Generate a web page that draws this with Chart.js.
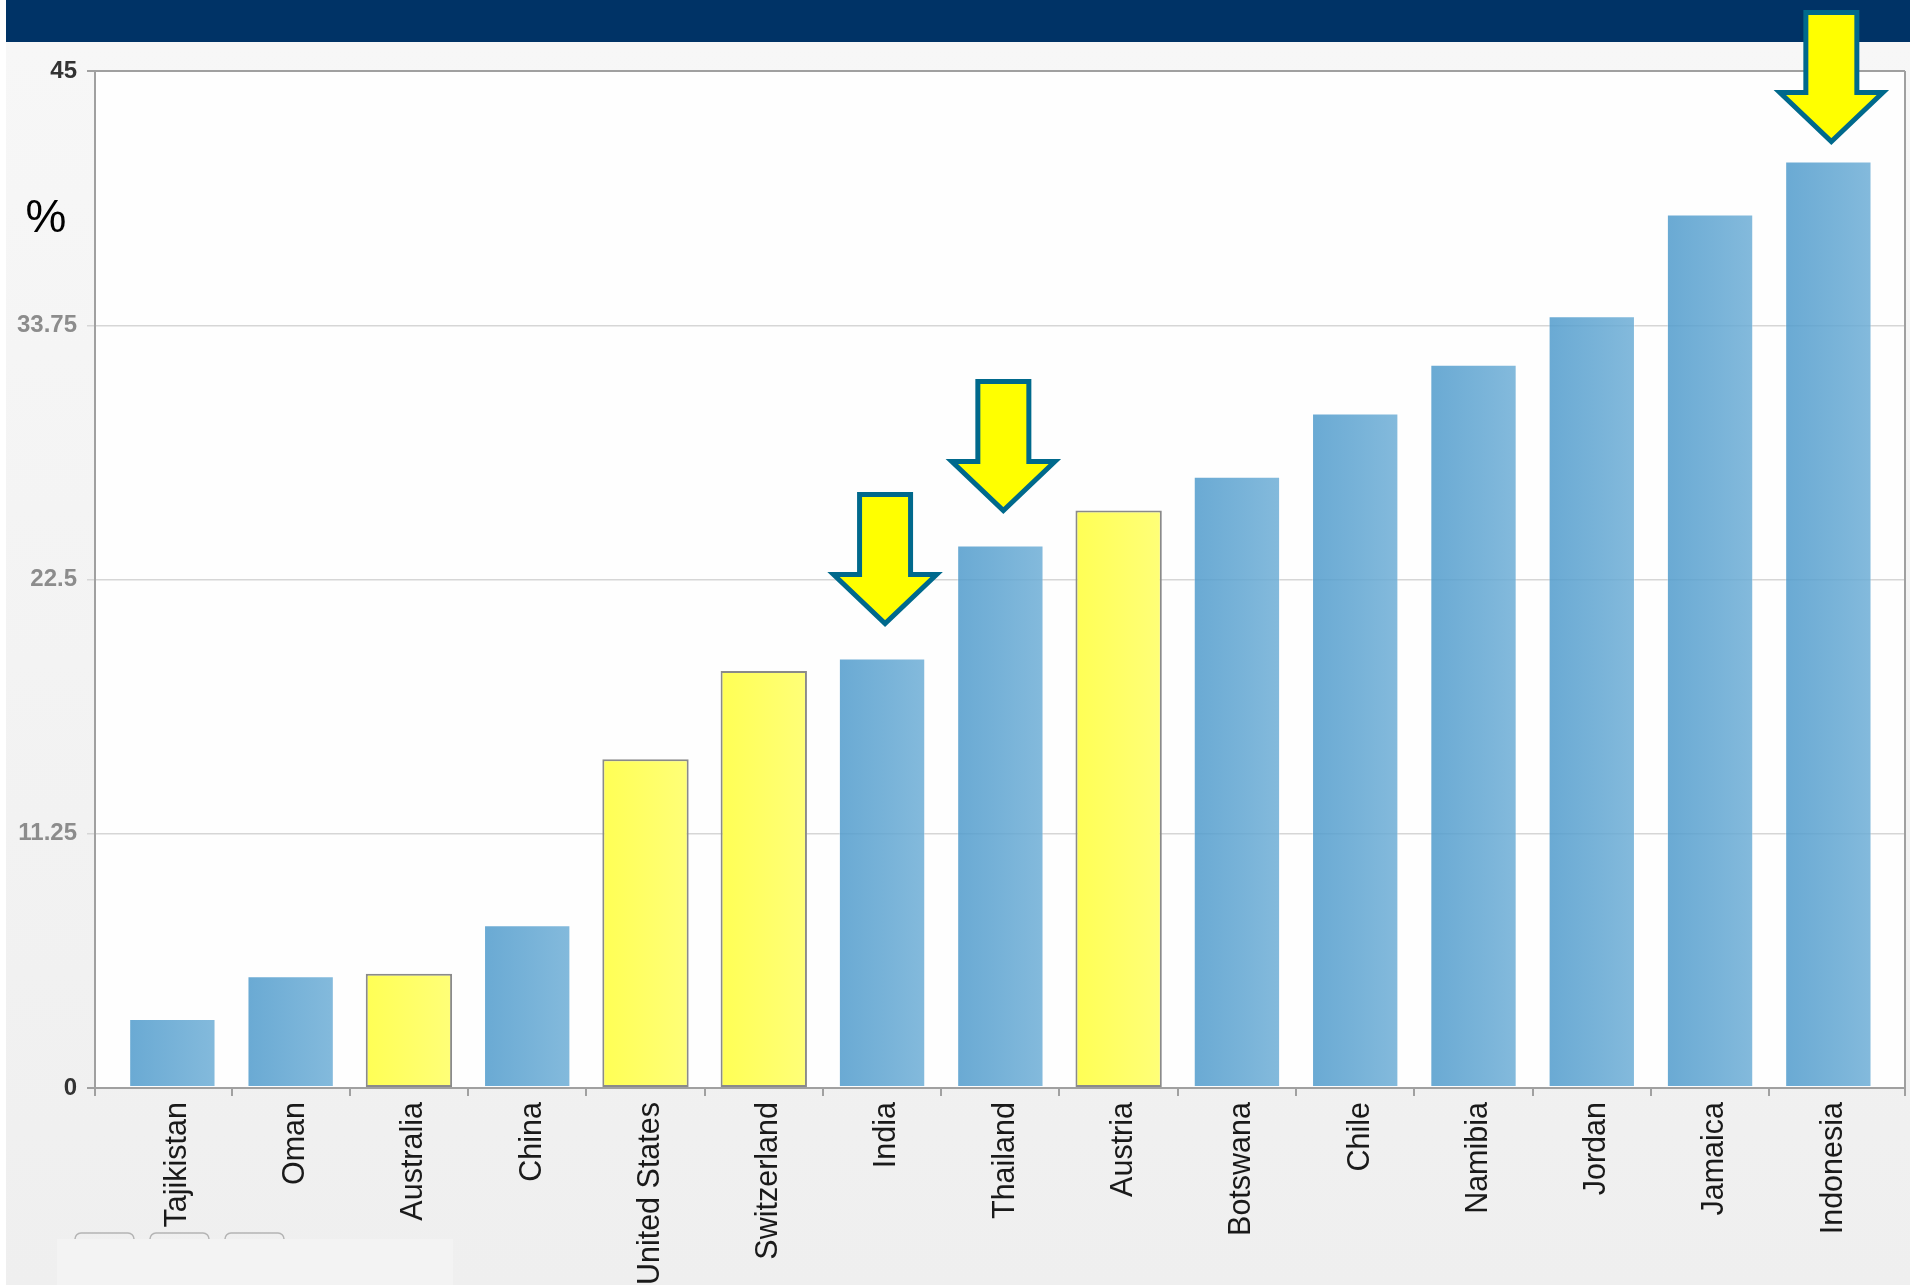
<!DOCTYPE html>
<html>
<head>
<meta charset="utf-8">
<script src="https://cdn.jsdelivr.net/npm/chart.js@4.4.1/dist/chart.umd.min.js"></script>
<style>
  html, body { margin: 0; padding: 0; background: #ffffff; }
  canvas { display: block; }
</style>
</head>
<body>
<canvas id="chart" width="1910" height="1285"></canvas>
<script>
// values (%)
const countries = ['Tajikistan', 'Oman', 'Australia', 'China', 'United States', 'Switzerland', 'India',
    'Thailand', 'Austria', 'Botswana', 'Chile', 'Namibia', 'Jordan', 'Jamaica', 'Indonesia'];
const shares = [3.05, 4.95, 5.05, 7.2, 14.55, 18.45, 19.0, 24.0, 25.55, 27.05, 29.85, 32.0, 34.15, 38.65, 41.0];
const yTicks = [0, 11.25, 22.5, 33.75, 45];
const yellowCountries = ['Australia', 'United States', 'Switzerland', 'Austria'];
const arrowCountries = ['India', 'Thailand', 'Indonesia'];

const BAR_PCT = 0.73;
const colors = {
    navy: '#003366',
    blueL: 'rgba(80,155,204,0.85)',
    blueR: 'rgba(110,174,214,0.85)',
    yellowL: '#ffff55',
    yellowR: '#ffff78',
    axis: '#a0a0a0',
    grid: '#d6d6d6',
    arrowFill: '#ffff00',
    arrowLine: '#00698c'
};
const FONT = '"Liberation Sans", Arial, sans-serif';

function isYellow(i) {
    return yellowCountries.includes(countries[i]);
}

function barFill(ctx) {
    const chart = ctx.chart;
    const x = chart.scales.x;
    const yellow = isYellow(ctx.dataIndex);
    const plain = yellow ? colors.yellowL : colors.blueL;
    if (!x || ctx.type !== 'data') return plain;
    const c = x.getPixelForValue(ctx.dataIndex);
    const half = (x.getPixelForValue(1) - x.getPixelForValue(0)) * BAR_PCT / 2;
    if (!isFinite(c) || !isFinite(half) || half <= 0) return plain;
    const g = chart.ctx.createLinearGradient(c - half, 0, c + half, 0);
    g.addColorStop(0, yellow ? colors.yellowL : colors.blueL);
    g.addColorStop(1, yellow ? colors.yellowR : colors.blueR);
    return g;
}

const backdrop = {
    id: 'backdrop',
    beforeDraw(chart) {
        const { ctx, width, height, chartArea: a } = chart;
        ctx.save();
        ctx.fillStyle = '#ffffff';
        ctx.fillRect(0, 0, width, height);
        const bg = ctx.createLinearGradient(0, 42, 0, height);
        bg.addColorStop(0, '#f7f7f7');
        bg.addColorStop(1, '#efefef');
        ctx.fillStyle = bg;
        ctx.fillRect(6, 0, width - 6, height);
        ctx.fillStyle = colors.navy;
        ctx.fillRect(6, 0, width - 6, 42);
        ctx.fillStyle = '#fefefe';
        ctx.fillRect(a.left, a.top, a.right - a.left, a.bottom - a.top);

        // leftover toolbar bits at the bottom left
        ctx.strokeStyle = '#b4b4b4';
        ctx.lineWidth = 1.5;
        [[75, 134], [150, 209], [225, 284]].forEach(([x0, x1]) => {
            ctx.beginPath();
            ctx.roundRect(x0, 1233, x1 - x0, 30, 6);
            ctx.stroke();
        });
        ctx.fillStyle = '#f3f3f3';
        ctx.fillRect(57, 1239, 396, height - 1239);
        ctx.restore();
    },
    afterDraw(chart) {
        const { ctx, chartArea: a, scales: { x, y } } = chart;
        ctx.save();
        // frame ends
        ctx.strokeStyle = colors.axis;
        ctx.lineWidth = 2;
        ctx.beginPath();
        ctx.moveTo(a.right, a.top);
        ctx.lineTo(a.right, a.bottom + 8);
        ctx.moveTo(a.left, a.bottom);
        ctx.lineTo(a.left, a.bottom + 8);
        ctx.stroke();

        ctx.fillStyle = '#000000';
        ctx.font = '46px ' + FONT;
        ctx.textAlign = 'center';
        ctx.textBaseline = 'middle';
        ctx.fillText('%', 46, 219);

        // arrows over the highlighted bars
        arrowCountries.forEach(name => {
            const i = countries.indexOf(name);
            const cx = x.getPixelForValue(i) + 3;
            const shaftHalf = 25.5, headHalf = 51.5, headH = 49, shaftH = 80;
            let tip = y.getPixelForValue(shares[i]) - 35;
            if (tip - headH - shaftH < 12.5) tip = 12.5 + headH + shaftH;
            const base = tip - headH, top = base - shaftH;
            ctx.beginPath();
            ctx.moveTo(cx - shaftHalf, top);
            ctx.lineTo(cx + shaftHalf, top);
            ctx.lineTo(cx + shaftHalf, base);
            ctx.lineTo(cx + headHalf, base);
            ctx.lineTo(cx, tip);
            ctx.lineTo(cx - headHalf, base);
            ctx.lineTo(cx - shaftHalf, base);
            ctx.closePath();
            ctx.fillStyle = colors.arrowFill;
            ctx.fill();
            ctx.lineJoin = 'miter';
            ctx.lineWidth = 5;
            ctx.strokeStyle = colors.arrowLine;
            ctx.stroke();
        });
        ctx.restore();
    }
};

const chart = new Chart(document.getElementById('chart'), {
    type: 'bar',
    data: {
        datasets: [{
            data: shares.map((v, i) => ({ x: i, y: v })),
            backgroundColor: barFill,
            borderColor: ctx => isYellow(ctx.dataIndex) ? '#8a8a8a' : 'rgba(255,255,255,0.35)',
            borderWidth: ctx => isYellow(ctx.dataIndex) ? 2 : 1,
            borderSkipped: false,
            barPercentage: BAR_PCT,
            categoryPercentage: 1
        }]
    },
    options: {
        responsive: false,
        devicePixelRatio: 1,
        animation: false,
        layout: { padding: { top: 71, right: 5, left: 0, bottom: 0 } },
        plugins: { legend: { display: false }, tooltip: { enabled: false } },
        scales: {
            x: {
                type: 'linear',
                bounds: 'data',
                offset: false,
                min: -0.654,
                max: 14.648,
                afterBuildTicks: s => { s.ticks = countries.map((c, i) => ({ value: i })); },
                afterFit: s => { s.height = 197; },
                grid: {
                    offset: true,
                    drawOnChartArea: false,
                    tickLength: 8,
                    lineWidth: 2,
                    color: ctx => (ctx.type !== 'tick' || ctx.index === 0) ? 'rgba(0,0,0,0)' : colors.axis
                },
                border: { display: true, color: colors.axis, width: 2 },
                ticks: {
                    autoSkip: false,
                    minRotation: 90,
                    maxRotation: 90,
                    padding: 6,
                    labelOffset: 5,
                    color: '#1a1a1a',
                    font: { family: FONT, size: 30.5 },
                    callback: v => countries[v]
                }
            },
            y: {
                bounds: 'data',
                min: 0,
                max: 45,
                afterBuildTicks: s => { s.ticks = yTicks.map(v => ({ value: v })); },
                afterFit: s => { s.width = 95; },
                grid: {
                    tickLength: 8,
                    color: ctx => (ctx.tick && (ctx.tick.value === 0 || ctx.tick.value === 45)) ? colors.axis : colors.grid,
                    lineWidth: ctx => (ctx.tick && (ctx.tick.value === 0 || ctx.tick.value === 45)) ? 2 : 1.5
                },
                border: { display: true, color: colors.axis, width: 2 },
                ticks: {
                    padding: 10,
                    color: ctx => (ctx.tick && (ctx.tick.value === 0 || ctx.tick.value === 45)) ? '#333333' : '#8c8c8c',
                    font: { family: FONT, size: 24, weight: 'bold' },
                    callback: v => String(v)
                }
            }
        }
    },
    plugins: [backdrop]
});
// second pass so the bar gradients see the finished scales
chart.update();
</script>
</body>
</html>
